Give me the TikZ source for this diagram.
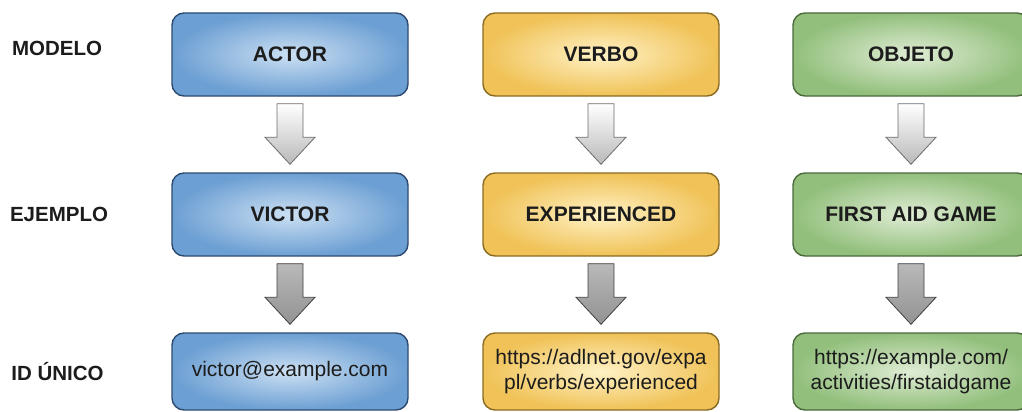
\documentclass[tikz,border=0pt]{standalone}
\usepackage{fontspec}
\setmainfont{Liberation Sans}
\usetikzlibrary{calc}
\definecolor{txt}{HTML}{1C1C1C}
\definecolor{bluein}{HTML}{CCE0F3}
\definecolor{blueout}{HTML}{6C9FD3}
\definecolor{blueline}{HTML}{2E4B6F}
\definecolor{yelin}{HTML}{FFF2C6}
\definecolor{yelout}{HTML}{F0C257}
\definecolor{yelline}{HTML}{8A6B22}
\definecolor{grnin}{HTML}{E0EDD5}
\definecolor{grnout}{HTML}{92BF7C}
\definecolor{grnline}{HTML}{4A6A3C}
\tikzset{
  basebox/.style={rounded corners=12pt, line width=1.4pt, minimum width=236pt,
    minimum height=83pt, align=center, text=txt, inner sep=2pt},
  bluebox/.style={basebox, draw=blueline, inner color=bluein, outer color=blueout},
  yelbox/.style={basebox, draw=yelline, inner color=yelin, outer color=yelout},
  grnbox/.style={basebox, draw=grnline, inner color=grnin, outer color=grnout},
  shortbox/.style={minimum height=77pt},
  title/.style={font=\fontsize{21}{25}\selectfont\bfseries},
  plain/.style={font=\fontsize{21}{25.5}\selectfont},
  rowlabel/.style={font=\fontsize{20.5}{24}\selectfont\bfseries, text=txt},
  lightarr/.style={draw=gray!85!black, line width=0.8pt, top color=white, bottom color=gray!55},
  darkarr/.style={draw=black!75, line width=0.8pt, top color=gray!55, bottom color=gray!100!black!85},
}
\newcommand{\blockarr}[3]{%
  \path[#3] ($(#1.south)+(-13,7)$) -- ($(#1.south)+(13,7)$) -- ($(#2.north)+(13,-35)$)
    -- ($(#2.north)+(25,-35)$) -- ($(#2.north)+(0,-8)$) -- ($(#2.north)+(-25,-35)$)
    -- ($(#2.north)+(-13,-35)$) -- cycle;}
\begin{document}
\begin{tikzpicture}[x=1pt,y=-1pt]
\useasboundingbox[fill=white] (0,0) rectangle (1022,412);
% row labels
\node[rowlabel] (lmodelo) at (57,48.5) {MODELO};
\node[rowlabel] (lejemplo) at (59,214) {EJEMPLO};
\node[rowlabel] (lid) at (57.5,372) {ID ÚNICO};
% column 1
\node[bluebox, title] (actor) at (290,54.5) {ACTOR};
\node[bluebox, title] (victor) at (290,214.5) {VICTOR};
\node[bluebox, shortbox, plain] (vmail) at (290,371.5) {victor@example.com};
% column 2
\node[yelbox, title] (verbo) at (601,54.5) {VERBO};
\node[yelbox, title] (exper) at (601,214.5) {EXPERIENCED};
\node[yelbox, shortbox, plain] (vurl) at (601,371.5) {https://adlnet.gov/expa\\pl/verbs/experienced};
% column 3
\node[grnbox, title] (objeto) at (911,54.5) {OBJETO};
\node[grnbox, title] (fag) at (911,214.5) {FIRST AID GAME};
\node[grnbox, shortbox, plain] (ourl) at (911,371.5) {https://example.com/\\activities/firstaidgame};
% arrows
\blockarr{actor}{victor}{lightarr}
\blockarr{verbo}{exper}{lightarr}
\blockarr{objeto}{fag}{lightarr}
\blockarr{victor}{vmail}{darkarr}
\blockarr{exper}{vurl}{darkarr}
\blockarr{fag}{ourl}{darkarr}
\end{tikzpicture}
\end{document}
